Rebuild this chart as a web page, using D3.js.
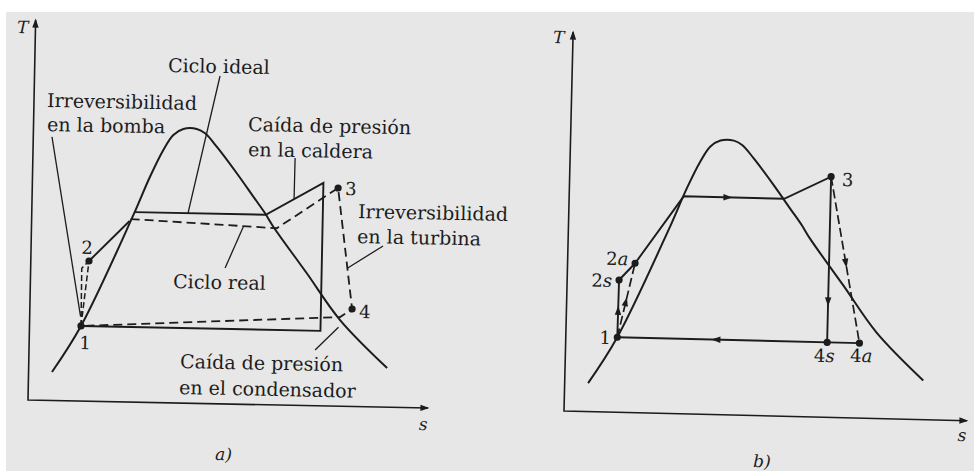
<!DOCTYPE html>
<html>
<head>
<meta charset="utf-8">
<script src="https://cdn.jsdelivr.net/npm/d3@7"></script>
<style>
  html, body { margin: 0; padding: 0; background: #fff; }
  svg { display: block; }
</style>
</head>
<body>
<svg id="chart" width="974" height="471"></svg>
<script>
// Saturation dome shared by both T–s diagrams, as [s, T] in schematic units
const dome = [[2.34,2.85],[5.15,7.51],[10.04,18.41],[11.75,22.57],[13.03,25.27],[14.0,26.79],
              [14.99,27.41],[16.33,27.44],[17.17,27.02],[18.36,25.71],[20.42,23.09],[22.12,20.78],
              [23.33,19.14],[24.18,17.82],[27.62,13.23],[31.04,8.62],[35.84,3.92]];

// (a) ideal Rankine cycle (solid) and actual cycle (dashed)
const idealA = [[10.3,19.0],[23.4,19.0],[29.1,22.3],[29.1,7.5],[5.15,7.5]];
const realA = [[9.9,18.3],[24.53,17.67],[30.58,21.82],[32.22,9.75],[31.03,8.92],[5.15,7.51]];
const pumpA = [[[5.15,7.51],[5.11,13.28],[5.82,14.02]], [[5.15,7.51],[5.82,14.02]]];
const heatA = [[5.82,14.02],[9.8,18.1]];
const statesA = [["1",5.15,7.51],["2",5.82,14.02],["3",30.58,21.82],["4",32.22,9.75]];
const stateLabelsA = [["1",5.6,5.21,"middle"],["2",5.61,14.72,"middle"],["3",31.29,21.13,"start"],["4",32.94,8.86,"start"]];
const notesA = [
  ["Ciclo ideal",13.34,33.08],
  ["Irreversibilidad",1.31,29.34],["en la bomba",1.36,26.94],
  ["Caída de presión",21.46,27.34],["en la caldera",21.51,24.84],
  ["Irreversibilidad",32.64,18.86],["en la turbina",32.59,16.36],
  ["Ciclo real",14.28,11.49],
  ["Caída de presión",15.14,3.5],["en el condensador",15.09,0.9]
];
const leadersA = [
  [[1.87,26.35],[5.08,8.5]],
  [[18.55,32.78],[15.63,19.02]],
  [[26.22,24.73],[26.2,20.62]],
  [[35.19,16.11],[31.7,13.84]],
  [[19.44,13.59],[21.2,17.8]],
  [[28.6,5.57],[30.9,7.9]]
];

// (b) isentropic states (s) and actual states (a)
const statesB = [["1",5.15,7.5],["2s",5.19,13.23],["2a",6.75,14.94],["3",26.14,24.07],["4s",26.14,7.5],["4a",29.37,7.5]];
const solidB = [[[5.15,7.5],[5.19,13.23],[6.75,14.94],[11.45,21.75],[21.5,21.75],[26.14,24.07],[26.14,7.5]],
                [[29.37,7.5],[5.15,7.5]]];
const dashedB = [[[5.15,7.5],[6.75,14.94]], [[26.14,24.07],[29.37,7.5]]];
// flow arrows: segment start, segment end, fraction along it
const arrowsB = [
  [[5.15,7.5],[5.19,13.23],0.47],
  [[5.15,7.5],[6.75,14.94],0.48],
  [[11.45,21.75],[21.5,21.75],0.44],
  [[26.14,24.07],[26.14,7.5],0.756],
  [[26.14,24.07],[29.37,7.5],0.52],
  [[26.14,7.5],[5.15,7.5],0.53]
];
const stateLabelsB = [["1",3.94,6.8,"middle"],["2s",4.5,12.52,"end"],["2a",4.95,14.73,"middle"],
                      ["3",27.23,23.17,"start"],["4s",25.88,5.52,"middle"],["4a",29.58,5.61,"middle"]];

const panels = [
  { key: "a)", origin: [28, 400], tilt: 1.15, sMax: 40, tMax: 38, sLab: [39.56,-2.21], tLab: [-1.83,36.68], cap: [18.82,-5.63] },
  { key: "b)", origin: [564, 411], tilt: 1.38, sMax: 40.3, tMax: 37.9, sLab: [39.84,-2.05], tLab: [-1.98,36.77], cap: [19.03,-5.15] }
];

const ink = "#1c1c1c";
const serif = "'DejaVu Serif', 'Liberation Serif', serif";

const sx = d3.scaleLinear().domain([0, 40]).range([0, 400]);
const ty = d3.scaleLinear().domain([0, 38]).range([0, -380]);
const line = d3.line().x(d => sx(d[0])).y(d => ty(d[1]));
const domeLine = d3.line().x(d => sx(d[0])).y(d => ty(d[1])).curve(d3.curveCatmullRom.alpha(0.5));

const svg = d3.select("#chart");
svg.append("rect").attr("width", 974).attr("height", 471).attr("fill", "#ffffff");
svg.append("rect").attr("x", 6).attr("y", 12).attr("width", 968).attr("height", 459).attr("fill", "#e7e7e7");

function arrowHead(g, x, y, angle, len, half) {
  g.append("path")
    .attr("d", `M${len/2},0 L${-len/2},${-half} L${-len/2},${half} Z`)
    .attr("transform", `translate(${x},${y}) rotate(${angle * 180 / Math.PI})`)
    .attr("fill", ink);
}

function drawFrame(g, p) {
  // axes with arrowheads
  g.append("path").attr("d", line([[0, p.tMax], [0, 0], [p.sMax, 0]]))
    .attr("fill", "none").attr("stroke", ink).attr("stroke-width", 1.6);
  arrowHead(g, sx(0), ty(p.tMax) + 3, -Math.PI / 2, 9, 3.2);
  arrowHead(g, sx(p.sMax) - 3, ty(0), 0, 9, 3.2);
  g.append("text").attr("x", sx(p.tLab[0])).attr("y", ty(p.tLab[1]))
    .attr("font-family", serif).attr("font-style", "italic").attr("font-size", 17).attr("fill", ink).text("T");
  g.append("text").attr("x", sx(p.sLab[0])).attr("y", ty(p.sLab[1])).attr("text-anchor", "middle")
    .attr("font-family", serif).attr("font-style", "italic").attr("font-size", 17).attr("fill", ink).text("s");
  g.append("text").attr("x", sx(p.cap[0])).attr("y", ty(p.cap[1]))
    .attr("font-family", serif).attr("font-style", "italic").attr("font-size", 17).attr("fill", ink).text(p.key);
  // saturation dome
  g.append("path").attr("d", domeLine(dome))
    .attr("fill", "none").attr("stroke", ink).attr("stroke-width", 2);
}

function stateLabel(g, d, size) {
  const t = g.append("text").attr("x", sx(d[1])).attr("y", ty(d[2])).attr("text-anchor", d[3])
    .attr("font-family", serif).attr("font-size", size).attr("fill", ink);
  // digits upright, subscript-like letters italic
  d[0].split("").forEach(ch => {
    t.append("tspan").attr("font-style", /[a-z]/.test(ch) ? "italic" : "normal").text(ch);
  });
}

function dots(g, states) {
  g.selectAll(null).data(states).join("circle")
    .attr("cx", d => sx(d[1])).attr("cy", d => ty(d[2])).attr("r", 3.6).attr("fill", ink);
}

// ---- diagram (a)
const pa = panels[0];
const ga = svg.append("g").attr("transform", `translate(${pa.origin[0]},${pa.origin[1]}) rotate(${pa.tilt})`);
drawFrame(ga, pa);
ga.append("path").attr("d", line(idealA)).attr("fill", "none").attr("stroke", ink).attr("stroke-width", 1.9);
ga.append("path").attr("d", line(heatA)).attr("fill", "none").attr("stroke", ink).attr("stroke-width", 1.9);
ga.append("path").attr("d", line(realA)).attr("fill", "none").attr("stroke", ink)
  .attr("stroke-width", 1.8).attr("stroke-dasharray", "9,5");
pumpA.forEach(seg => ga.append("path").attr("d", line(seg)).attr("fill", "none").attr("stroke", ink)
  .attr("stroke-width", 1.5).attr("stroke-dasharray", "6,3"));
leadersA.forEach(seg => ga.append("path").attr("d", line(seg)).attr("fill", "none").attr("stroke", ink).attr("stroke-width", 1.3));
dots(ga, statesA);
stateLabelsA.forEach(d => stateLabel(ga, d, 18));
ga.selectAll(null).data(notesA).join("text")
  .attr("x", d => sx(d[1])).attr("y", d => ty(d[2]))
  .attr("font-family", serif).attr("font-size", 19).attr("fill", ink)
  .text(d => d[0]);

// ---- diagram (b)
const pb = panels[1];
const gb = svg.append("g").attr("transform", `translate(${pb.origin[0]},${pb.origin[1]}) rotate(${pb.tilt})`);
drawFrame(gb, pb);
solidB.forEach(seg => gb.append("path").attr("d", line(seg)).attr("fill", "none").attr("stroke", ink).attr("stroke-width", 1.9));
dashedB.forEach(seg => gb.append("path").attr("d", line(seg)).attr("fill", "none").attr("stroke", ink)
  .attr("stroke-width", 1.7).attr("stroke-dasharray", "9,4"));
arrowsB.forEach(([a, b, f]) => {
  const x0 = sx(a[0]), y0 = ty(a[1]), x1 = sx(b[0]), y1 = ty(b[1]);
  arrowHead(gb, x0 + (x1 - x0) * f, y0 + (y1 - y0) * f, Math.atan2(y1 - y0, x1 - x0), 9, 3.2);
});
dots(gb, statesB);
stateLabelsB.forEach(d => stateLabel(gb, d, 18));
</script>
</body>
</html>
